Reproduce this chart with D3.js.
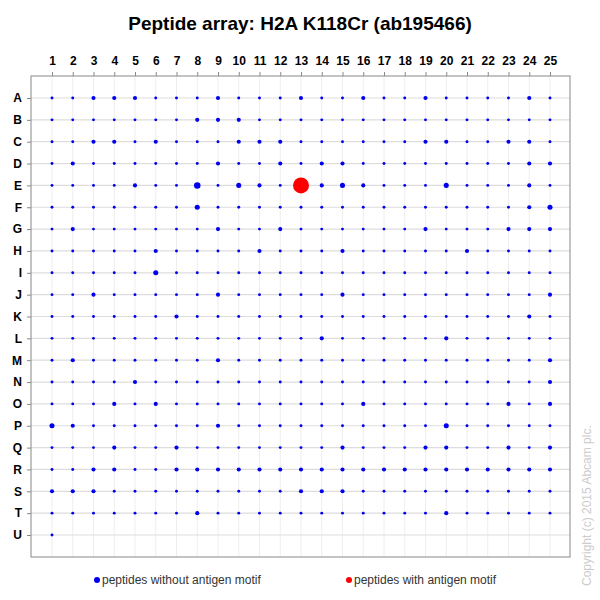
<!DOCTYPE html><html><head><meta charset="utf-8"><script src="https://cdn.jsdelivr.net/npm/d3@7"></script>
<style>body{margin:0;background:#fff}</style></head><body><svg id="c" width="600" height="600"></svg>
<script>
const columns = d3.range(1,26);
const rowLabels = "ABCDEFGHIJKLMNOPQRSTU".split("");
// intensity per cell (row strings, one digit per column; '9' = special red)
const rowValues = [
"1122211121112112112111121",
"1111111222111111111111111",
"1122121112221111112211221",
"1211111121121221111111122",
"1111211513219232111311121",
"1111111311111111111111123",
"1211111121121111112111222",
"1111121111211121111121111",
"1111131111111111111111111",
"1121111121111121111111112",
"1111112111111111111111121",
"1111111111111211111211111",
"1211111121111111111111112",
"1111211111111111111111112",
"1112121111111112111111212",
"3211111121111111111311111",
"1112112111111121112211212",
"1122112222222222222222222",
"2221111111112221111111111",
"1111111211111111111211111",
"1"
];
const specialValue = 30;
const legendLabels = ["peptides without antigen motif","peptides with antigen motif"];
const cells = [];
rowValues.forEach((s,ri)=>s.split("").forEach((ch,ci)=>{
  cells.push({row:rowLabels[ri],col:columns[ci],v:ch==="9"?specialValue:+ch,red:ch==="9"});
}));
const svg=d3.select("#c");
const L=31,R=570,T=76,B=557;
const x=d3.scalePoint().domain(columns).range([52,550]);
const y=d3.scalePoint().domain(rowLabels).range([98,535]);
const r=d3.scaleSqrt().domain([0,specialValue]).range([0,8]);
svg.append("text").attr("x",300).attr("y",30).attr("text-anchor","middle").attr("font-family","Liberation Sans, Arial").attr("font-weight","bold").attr("font-size",19).text("Peptide array:  H2A K118Cr (ab195466)");
const g=svg.append("g");
g.selectAll(".vg").data(columns).join("line").attr("class","vg").attr("x1",d=>x(d)).attr("x2",d=>x(d)).attr("y1",T).attr("y2",B).attr("stroke","#eeeeee");
g.selectAll(".hg").data(rowLabels).join("line").attr("class","hg").attr("y1",d=>y(d)).attr("y2",d=>y(d)).attr("x1",L).attr("x2",R).attr("stroke","#dddddd").attr("stroke-width",1.2);
g.append("rect").attr("x",L).attr("y",T).attr("width",R-L).attr("height",B-T).attr("fill","none").attr("stroke","#888");
const topAx=svg.append("g").attr("transform",`translate(0,${T})`).call(d3.axisTop(x).tickSize(4).tickSizeOuter(0));
topAx.select(".domain").remove();
topAx.selectAll("line").attr("stroke","#888");
topAx.selectAll("text").attr("font-family","Liberation Sans, Arial").attr("font-weight","bold").attr("font-size",12).attr("fill","#000").attr("dy","-0.3em");
const leftAx=svg.append("g").attr("transform",`translate(${L},0)`).call(d3.axisLeft(y).tickSize(4).tickSizeOuter(0));
leftAx.select(".domain").remove();
leftAx.selectAll("line").attr("stroke","#888");
leftAx.selectAll("text").attr("font-family","Liberation Sans, Arial").attr("font-weight","bold").attr("font-size",12).attr("fill","#000").attr("x",-9);
g.selectAll(".dot").data(cells).join("circle").attr("class","dot").attr("cx",d=>x(d.col)).attr("cy",d=>y(d.row)).attr("r",d=>r(d.v)).attr("fill",d=>d.red?"#ff0000":"#0000ee");
const lg=svg.append("g").attr("font-family","Liberation Sans, Arial").attr("font-size",12);
[[97,"#0000ee"],[349,"#ff0000"]].forEach(([lx,c],i)=>{
  lg.append("circle").attr("cx",lx).attr("cy",580).attr("r",3).attr("fill",c);
  lg.append("text").attr("x",lx+5).attr("y",584).attr("fill","#333").text(legendLabels[i]);
});
svg.append("text").attr("transform","translate(591,586) rotate(-90)").attr("font-family","Liberation Sans, Arial").attr("font-size",12).attr("fill","#cccccc").text("Copyright (c) 2015 Abcam plc.");
</script></body></html>
